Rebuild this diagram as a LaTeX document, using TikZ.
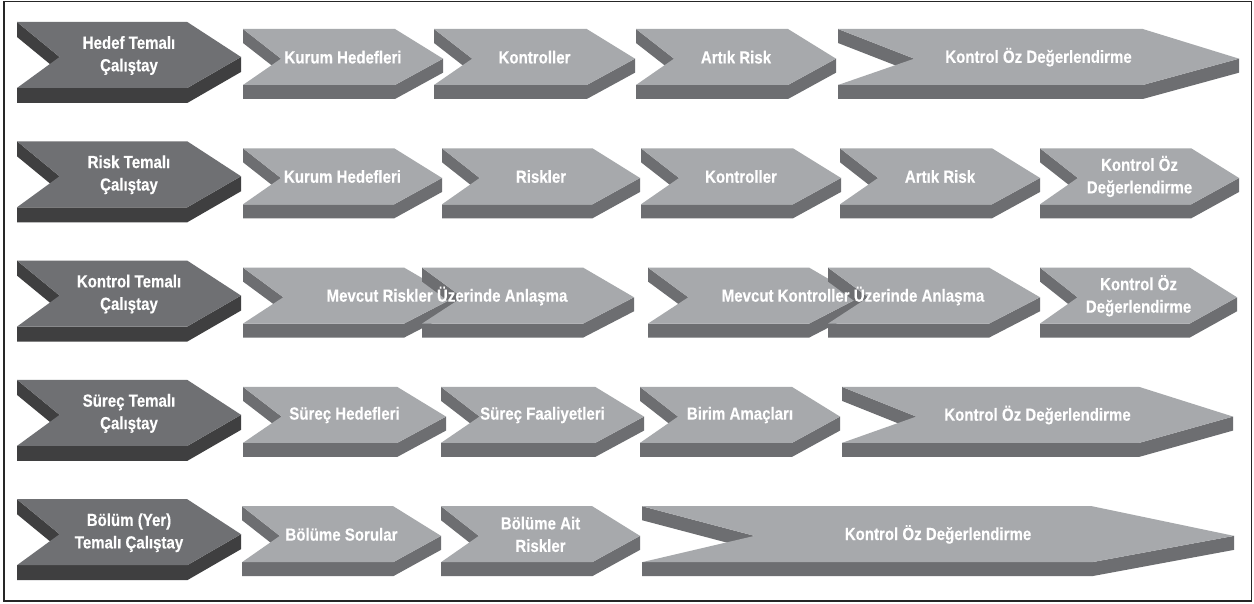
\documentclass[tikz,border=0pt]{standalone}
\usepackage{fontspec}
\newfontfamily\lblfont{Liberation Sans}[FakeStretch=0.86,BoldFeatures={FakeBold=0.3}]
\definecolor{lttop}{HTML}{A7A9AC}
\definecolor{ltside}{HTML}{6D6E71}
\definecolor{dktop}{HTML}{6F7073}
\definecolor{dkside}{HTML}{3F3F40}
\tikzset{lbl/.style={text=white, font=\lblfont\bfseries\fontsize{17.5}{22.5}\selectfont, align=center, inner sep=0pt}}
% #1 name, #2 xL, #3 ytop, #4 w, #5 h, #6 t, #7 colour prefix, #8 text
\newcommand\chev[8]{%
  \pgfmathsetmacro\cvL{#2}%
  \pgfmathsetmacro\cvP{#2+#4}%
  \pgfmathsetmacro\cvR{#2+0.76*#4}%
  \pgfmathsetmacro\cvN{#2+0.19*#4}%
  \pgfmathsetmacro\cvT{#3}%
  \pgfmathsetmacro\cvB{#3+#5}%
  \pgfmathsetmacro\cvM{#3+0.53*#5}%
  \pgfmathsetmacro\cvTt{#3+#6}%
  \pgfmathsetmacro\cvBt{#3+#5+#6}%
  \pgfmathsetmacro\cvMt{#3+0.53*#5+#6}%
  \pgfmathsetmacro\cvC{#2+0.5*#4}%
  \fill[#7side] (\cvL,\cvT) -- (\cvN,\cvM) -- (\cvN,\cvMt) -- (\cvL,\cvTt) -- cycle;
  \fill[#7side] (\cvL,\cvB) -- (\cvR,\cvB) -- (\cvP,\cvM) -- (\cvP,\cvMt) -- (\cvR,\cvBt) -- (\cvL,\cvBt) -- cycle;
  \fill[#7top] (\cvL,\cvT) -- (\cvR,\cvT) -- (\cvP,\cvM) -- (\cvR,\cvB) -- (\cvL,\cvB) -- (\cvN,\cvM) -- cycle;
  \node[lbl] (#1) at (\cvC,\cvM-1.5) {#8};
}
\newcommand\lt[5]{\chev{#1}{#2}{#3}{#4}{56}{14}{lt}{#5}}
\newcommand\dk[3]{\chev{#1}{17}{#2}{224}{66}{15}{dk}{#3}}
\begin{document}
\begin{tikzpicture}[x=1pt,y=-1pt]
\useasboundingbox (0,0) rectangle (1254,604);
\fill[white] (0,0) rectangle (1254,604);
\draw[line width=1.3pt, black!85] (4,1.5) rectangle (1251.5,601);
% row 1
\dk{h1}{22}{Hedef Temalı\\Çalıştay}
\lt{r1a}{243}{29}{200}{Kurum Hedefleri}
\lt{r1b}{434}{29}{201}{Kontroller}
\lt{r1c}{636}{29}{200}{Artık Risk}
\lt{r1d}{838}{29}{401}{Kontrol Öz Değerlendirme}
% row 2
\dk{h2}{141.3}{Risk Temalı\\Çalıştay}
\lt{r2a}{243}{148.3}{199}{Kurum Hedefleri}
\lt{r2b}{442}{148.3}{198}{Riskler}
\lt{r2c}{641}{148.3}{200}{Kontroller}
\lt{r2d}{840}{148.3}{200}{Artık Risk}
\lt{r2e}{1040}{148.3}{199}{Kontrol Öz\\Değerlendirme}
% row 3
\dk{h3}{260.6}{Kontrol Temalı\\Çalıştay}
\lt{r3a}{243}{267.6}{212}{}
\lt{r3b}{422}{267.6}{212}{}
\node[lbl] (t3a) at (447,296) {Mevcut Riskler Üzerinde Anlaşma};
\lt{r3c}{648}{267.6}{212}{}
\lt{r3d}{828}{267.6}{212}{}
\node[lbl] (t3b) at (853,296) {Mevcut Kontroller Üzerinde Anlaşma};
\lt{r3e}{1040}{267.6}{197}{Kontrol Öz\\Değerlendirme}
% row 4
\dk{h4}{379.9}{Süreç Temalı\\Çalıştay}
\lt{r4a}{243}{386.9}{203}{Süreç Hedefleri}
\lt{r4b}{441}{386.9}{203}{Süreç Faaliyetleri}
\lt{r4c}{640}{386.9}{200}{Birim Amaçları}
\lt{r4d}{842}{386.9}{391}{Kontrol Öz Değerlendirme}
% row 5
\dk{h5}{499.2}{Bölüm (Yer)\\Temalı Çalıştay}
\lt{r5a}{242}{506.2}{199}{Bölüme Sorular}
\lt{r5b}{441}{506.2}{199}{Bölüme Ait\\Riskler}
\lt{r5c}{642}{506.2}{592}{Kontrol Öz Değerlendirme}
\end{tikzpicture}
\end{document}
